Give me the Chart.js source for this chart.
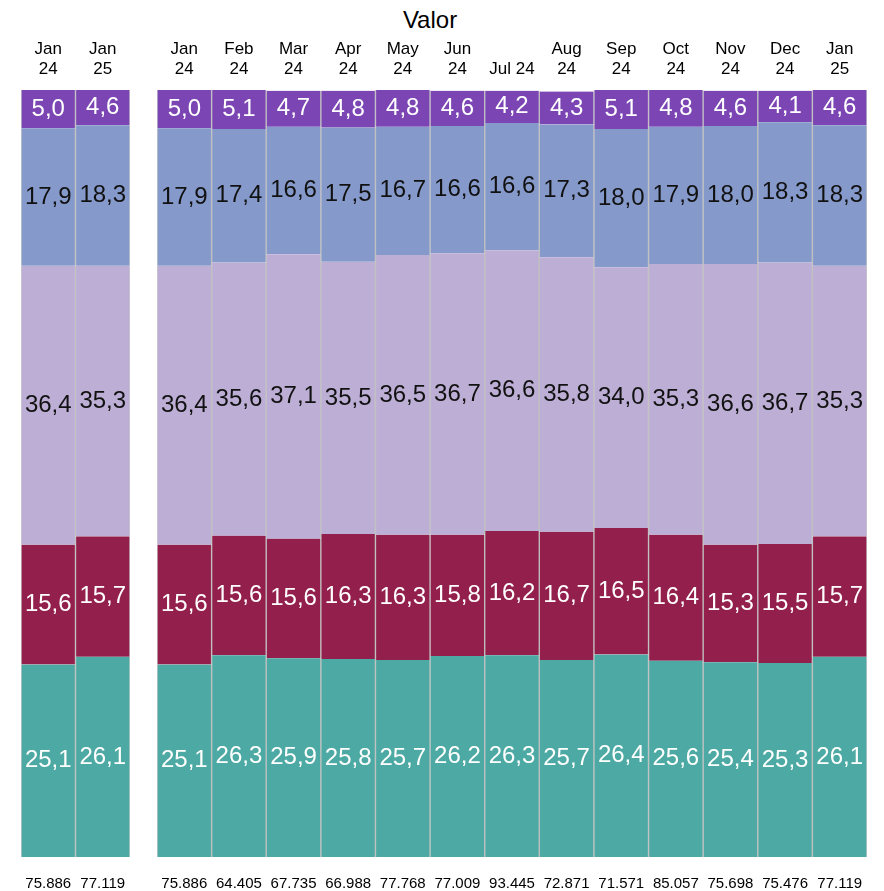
<!DOCTYPE html>
<html>
<head>
<meta charset="utf-8">
<script src="https://cdn.jsdelivr.net/npm/chart.js@4.4.1/dist/chart.umd.min.js"></script>
<style>
  body { margin: 0; background: #fff; }
  #wrap { position: relative; width: 884px; height: 891px; }
  #title { position: absolute; left: 0; top: 6px; width: 860px; text-align: center;
           font: 24px "Liberation Sans", Arial, sans-serif; color: #000; }
  #left { position: absolute; left: 0; top: 0; }
  #right { position: absolute; left: 143px; top: 0; }
</style>
</head>
<body>
<div id="wrap">
  <div id="title">Valor</div>
  <canvas id="left" width="143" height="891"></canvas>
  <canvas id="right" width="741" height="891"></canvas>
</div>
<script>
// left group: year-over-year
const leftLabels = [['Jan', '24'], ['Jan', '25']];
const leftTeal = [25.1, 26.1];
const leftMaroon = [15.6, 15.7];
const leftLilac = [36.4, 35.3];
const leftBlue = [17.9, 18.3];
const leftPurple = [5.0, 4.6];
const leftTotals = [75886, 77119];

// right group: monthly
const rightLabels = [['Jan', '24'], ['Feb', '24'], ['Mar', '24'], ['Apr', '24'], ['May', '24'], ['Jun', '24'],
  'Jul 24', ['Aug', '24'], ['Sep', '24'], ['Oct', '24'], ['Nov', '24'], ['Dec', '24'], ['Jan', '25']];
const rightTeal = [25.1, 26.3, 25.9, 25.8, 25.7, 26.2, 26.3, 25.7, 26.4, 25.6, 25.4, 25.3, 26.1];
const rightMaroon = [15.6, 15.6, 15.6, 16.3, 16.3, 15.8, 16.2, 16.7, 16.5, 16.4, 15.3, 15.5, 15.7];
const rightLilac = [36.4, 35.6, 37.1, 35.5, 36.5, 36.7, 36.6, 35.8, 34.0, 35.3, 36.6, 36.7, 35.3];
const rightBlue = [17.9, 17.4, 16.6, 17.5, 16.7, 16.6, 16.6, 17.3, 18.0, 17.9, 18.0, 18.3, 18.3];
const rightPurple = [5.0, 5.1, 4.7, 4.8, 4.8, 4.6, 4.2, 4.3, 5.1, 4.8, 4.6, 4.1, 4.6];
const rightTotals = [75886, 64405, 67735, 66988, 77768, 77009, 93445, 72871, 71571, 85057, 75698, 75476, 77119];

const FONT = '"Liberation Sans", Arial, sans-serif';
const fmtPct = (v) => v.toFixed(1).replace('.', ',');
const fmtTotal = (v) => String(v).replace(/\B(?=(\d{3})+(?!\d))/g, '.');

const segLabels = {
  id: 'segLabels',
  afterDatasetsDraw(chart) {
    const { ctx } = chart;
    ctx.save();
    ctx.font = '24px ' + FONT;
    ctx.textAlign = 'center';
    ctx.textBaseline = 'middle';
    chart.data.datasets.forEach((ds, i) => {
      ctx.fillStyle = ds.labelColor;
      chart.getDatasetMeta(i).data.forEach((bar, j) => {
        ctx.fillText(fmtPct(ds.data[j]), bar.x, (bar.y + bar.base) / 2);
      });
    });
    ctx.restore();
  },
};

// keep the axes from reserving extra side room for their labels
const fixAxis = (h) => (scale) => {
  scale.height = h;
  scale.paddingLeft = 0;
  scale.paddingRight = 0;
};

function makeConfig(labels, teal, maroon, lilac, blue, purple, totals, padLeft, padRight) {
  const ds = (data, color, labelColor) => ({
    data,
    backgroundColor: color,
    labelColor,
    borderColor: 'rgba(150,150,150,0.5)',
    borderWidth: { left: 1, right: 1, top: 0, bottom: 0 },
    borderSkipped: false,
    categoryPercentage: 1,
    barPercentage: 1,
    xAxisID: 'x',
  });
  return {
    type: 'bar',
    data: {
      labels,
      datasets: [
        ds(teal, '#4da9a3', '#fff'),
        ds(maroon, '#93204c', '#fff'),
        ds(lilac, '#bcaed4', '#111'),
        ds(blue, '#8599ca', '#111'),
        ds(purple, '#7c45b4', '#fff'),
      ],
    },
    options: {
      responsive: false,
      animation: false,
      devicePixelRatio: 1,
      layout: { padding: { left: padLeft, right: padRight, top: 39, bottom: 1 } },
      scales: {
        x: {
          position: 'top',
          stacked: true,
          grid: { display: false, drawTicks: false },
          border: { display: false },
          ticks: { color: '#000', font: { size: 17, family: FONT, lineHeight: 1.18 }, padding: 11, maxRotation: 0, autoSkip: false },
          afterFit: fixAxis(51),
        },
        x2: {
          type: 'category',
          position: 'bottom',
          labels: totals.map(fmtTotal),
          grid: { display: false, drawTicks: false },
          border: { display: false },
          ticks: { color: '#000', font: { size: 15, family: FONT }, padding: 18, maxRotation: 0, autoSkip: false },
          afterFit: fixAxis(33),
        },
        y: { stacked: true, min: 0, max: 100, display: false },
      },
      plugins: { legend: { display: false }, tooltip: { enabled: false } },
    },
    plugins: [segLabels],
  };
}

new Chart(document.getElementById('left'),
  makeConfig(leftLabels, leftTeal, leftMaroon, leftLilac, leftBlue, leftPurple, leftTotals, 21, 13));
new Chart(document.getElementById('right'),
  makeConfig(rightLabels, rightTeal, rightMaroon, rightLilac, rightBlue, rightPurple, rightTotals, 14, 17));
</script>
</body>
</html>
